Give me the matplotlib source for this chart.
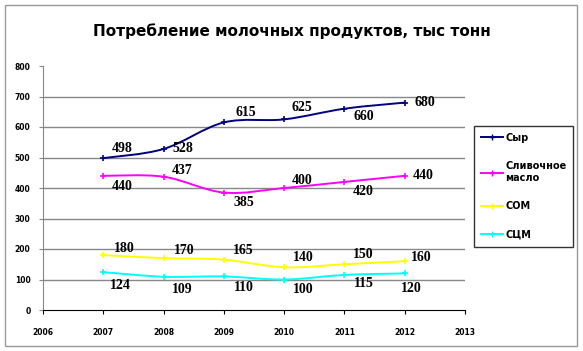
import numpy as np
import matplotlib.pyplot as plt
from matplotlib.path import Path
from matplotlib.patches import PathPatch, Rectangle
from matplotlib.lines import Line2D

years = [2007, 2008, 2009, 2010, 2011, 2012]
names = ['Сыр', 'Сливочное\nмасло', 'СОМ', 'СЦМ']
syr = [498, 528, 615, 625, 660, 680]
maslo = [440, 437, 385, 400, 420, 440]
som = [180, 170, 165, 140, 150, 160]
scm = [124, 109, 110, 100, 115, 120]
colors = ['#000080', '#ff00ff', '#ffff00', '#00ffff']

# label offsets in pixels (dx, dy)
offs = [
    [(19, 10), (19, 0), (22, 10), (18, 12), (19, -8), (20, 0)],
    [(19, -11), (19, 6), (20, -10), (18, 7), (19, -10), (18, 0)],
    [(21, 7), (21, 8), (19, 9), (19, 10), (19, 10), (17, 4)],
    [(17, -13), (19, -13), (20, -11), (19, -10), (19, -9), (7, -15)],
]


def smooth_path(x, y):
    p = np.column_stack([x, y]).astype(float)
    ext = np.vstack([p[0], p, p[-1]])
    verts = [p[0]]
    codes = [Path.MOVETO]
    for i in range(len(p) - 1):
        p0, p1, p2, p3 = ext[i], ext[i + 1], ext[i + 2], ext[i + 3]
        verts += [p1 + (p2 - p0) / 6, p2 - (p3 - p1) / 6, p2]
        codes += [Path.CURVE4] * 3
    return Path(verts, codes)


fig = plt.figure(figsize=(5.83, 3.51), dpi=100)
fig.patches.append(Rectangle((5 / 583, 5 / 351), 572 / 583, 341 / 351, transform=fig.transFigure,
                             fill=False, edgecolor='#999999', lw=1))
ax = fig.add_axes([43 / 583, 1 - 310 / 351, 422 / 583, 244 / 351])

for vals, c, off in zip([syr, maslo, som, scm], colors, offs):
    ax.add_patch(PathPatch(smooth_path(years, vals), fill=False, edgecolor=c, lw=1.4, zorder=3))
    ax.plot(years, vals, ls='none', marker='+', ms=5, mew=1.2, color=c, zorder=4)
    for x, v, (dx, dy) in zip(years, vals, off):
        ax.annotate(str(v), (x, v), xytext=(dx, dy), textcoords='offset pixels',
                    ha='center', va='center', fontsize=10, fontweight='bold',
                    family='Liberation Serif', color='black', zorder=5)

ax.set_xlim(2006, 2013)
ax.set_ylim(0, 800)
ax.set_xticks(range(2006, 2014))
ax.set_yticks(range(0, 900, 100))
ax.tick_params(axis='both', labelsize=5.5, direction='out', length=3)
ax.tick_params(axis='y', color='#888888', pad=6)
ax.tick_params(axis='x', pad=10)
for lab in ax.get_xticklabels() + ax.get_yticklabels():
    lab.set_fontweight('bold')
for v in range(100, 800, 100):
    ax.axhline(v, color='#888888', lw=1, zorder=1)
ax.spines['top'].set_visible(False)
ax.spines['right'].set_visible(False)
ax.spines['left'].set_color('#888888')
ax.spines['bottom'].set_color('black')

handles = [Line2D([], [], color=c, lw=1.4, marker='+', ms=4) for c in colors]
leg = fig.legend(handles, names, loc='upper left', bbox_to_anchor=(474 / 583, 1 - 126 / 351),
                 prop={'size': 7, 'weight': 'bold'}, frameon=True, fancybox=False,
                 edgecolor='black', labelspacing=1.9, handlelength=2.3, handletextpad=0.2,
                 borderpad=0.7, borderaxespad=0)
leg.get_frame().set_linewidth(1)

fig.text(292 / 583, 1 - 31 / 351, 'Потребление молочных продуктов, тыс тонн',
         ha='center', va='center', fontsize=11, fontweight='bold')

fig.savefig('out.png', dpi=100)
